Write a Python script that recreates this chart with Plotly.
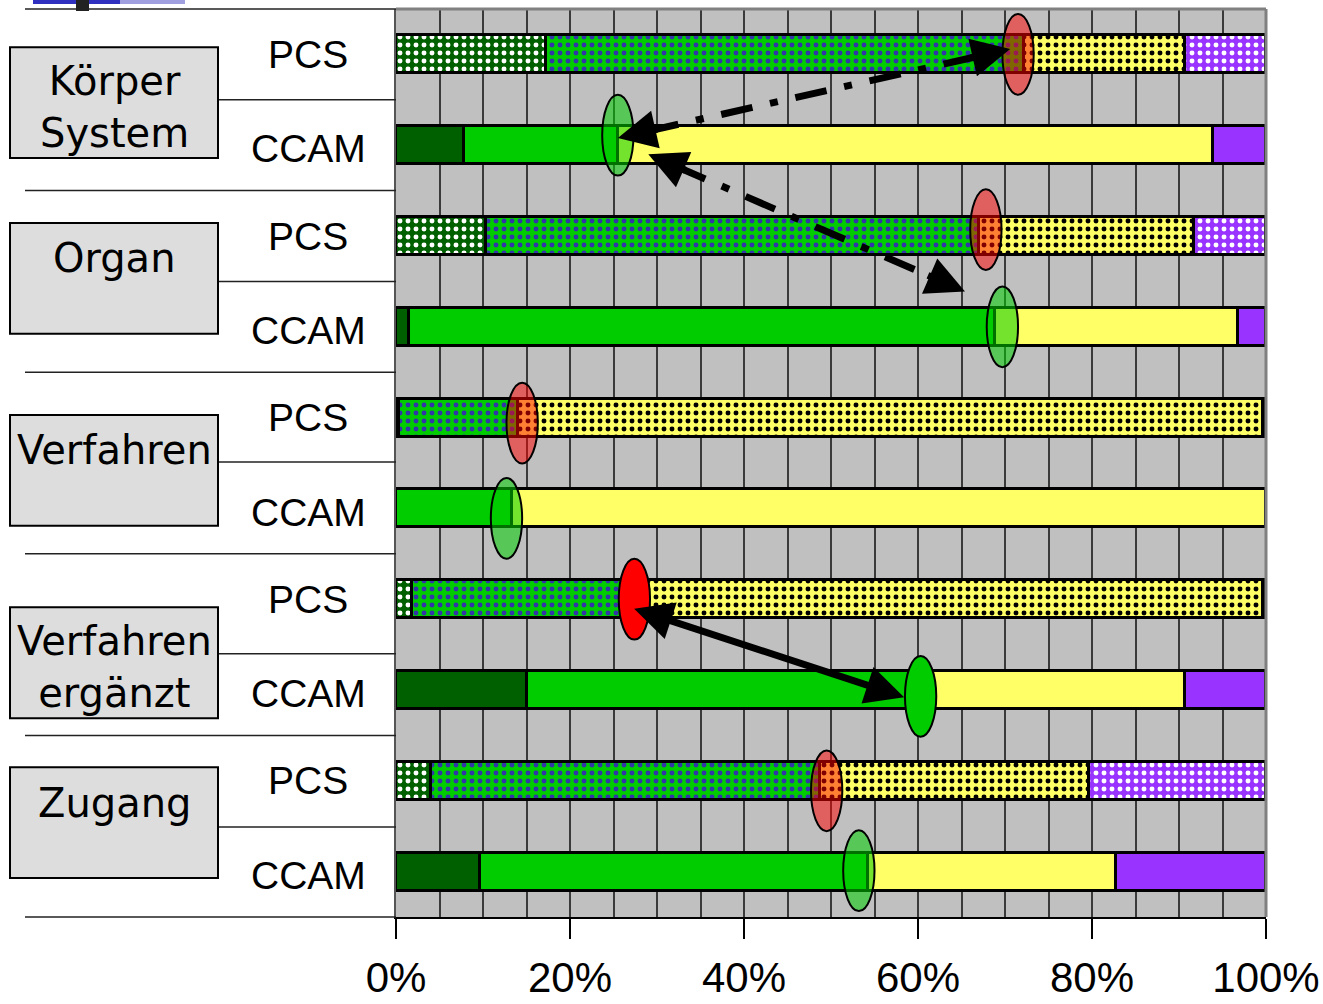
import plotly.graph_objects as go

# ---------------- data ----------------
groups = ["Körper<br>System", "Organ", "Verfahren", "Verfahren<br>ergänzt", "Zugang"]
systems = ["PCS", "CCAM"]
bar_system = ["PCS", "CCAM"] * 5

# stacked shares in % (bar order top -> bottom)
dark_green = [17.2, 7.8, 10.3, 1.5, 0.3, 0.0, 1.8, 15.0, 4.0, 9.7]
green      = [55.0, 17.7, 56.7, 67.4, 13.7, 13.3, 25.6, 45.3, 44.7, 44.6]
yellow     = [18.5, 68.4, 24.7, 27.9, 85.6, 86.7, 72.2, 30.4, 31.0, 28.5]
purple     = [9.3, 6.1, 8.3, 3.2, 0.4, 0.0, 0.4, 9.3, 20.3, 17.2]

# highlighted positions (ellipses), in %
marker_x = [71.5, 25.5, 67.8, 69.7, 14.5, 12.7, 27.4, 60.3, 49.5, 53.2]
marker_solid = [False, False, False, False, False, False, True, True, False, False]

# arrows: (x_start %, bar_start, x_end %, bar_end, style)
arrows = [
    (25.5, 0.92, 70.6, -0.06, "dashdot"),
    (29.0, 1.10, 65.4, 2.61, "dashdot"),
    (27.2, 6.10, 58.4, 7.08, "solid"),
]

tick_vals = [0, 20, 40, 60, 80, 100]
tick_text = ["0%", "20%", "40%", "60%", "80%", "100%"]

# ---------------- layout geometry ----------------
W, H = 1323, 1004
L, R, T, B = 396, 57, 9, 87
PW, PH = W - L - R, H - T - B
N = len(bar_system)
PX_X = PW / 100.0
PX_Y = PH / N

def yp(y):  # data y (bar index) -> paper
    return 1 - (y + 0.5) / N

def xpx(px):  # pixel x -> paper
    return (px - L) / PW

def ypx(py):  # pixel y -> paper
    return 1 - (py - T) / PH

ypos = list(range(N))
is_pcs = [s == "PCS" for s in bar_system]

fig = go.Figure()

segments = [
    ("dark", dark_green, "#006000", "#FFFFFF"),
    ("green", green, "#00CC00", "#3333AA"),
    ("yellow", yellow, "#FFFF66", "#000000"),
    ("purple", purple, "#9933FF", "#FFFFFF"),
]
for name, vals, col, fg in segments:
    fig.add_trace(go.Bar(
        y=ypos, x=vals, orientation="h", name=name, width=0.42,
        marker=dict(
            color=col,
            line=dict(color="black", width=3.5),
            pattern=dict(
                shape=["." if p else "" for p in is_pcs],
                fgcolor=fg, fgopacity=1, size=8, solidity=0.3,
            ),
        ),
        hoverinfo="skip", showlegend=False,
    ))

shapes = []
# ellipses
ell_dy = [0.0, -0.11, -0.07, 0.0, 0.06, 0.11, 0.0, 0.07, 0.11, -0.01]
ell_w, ell_h = 3.6, 0.89
for i in range(N):
    red = is_pcs[i]
    if marker_solid[i]:
        fill = "#FF0000" if red else "#00CC00"
    else:
        fill = "rgba(255,0,0,0.5)" if red else "rgba(0,204,0,0.55)"
    cy = i + ell_dy[i]
    shapes.append(dict(type="circle", xref="x", yref="y",
                       x0=marker_x[i] - ell_w / 2, x1=marker_x[i] + ell_w / 2,
                       y0=cy - ell_h / 2, y1=cy + ell_h / 2,
                       fillcolor=fill, line=dict(color="black", width=2)))

# arrows
annotations = []
for (x0, y0, x1, y1, style) in arrows:
    dxp, dyp = (x1 - x0) * PX_X, (y1 - y0) * PX_Y
    length = (dxp ** 2 + dyp ** 2) ** 0.5
    if style == "dashdot":
        f = 30 / length
        shapes.append(dict(type="line", xref="x", yref="y",
                           x0=x0 + (x1 - x0) * f, y0=y0 + (y1 - y0) * f,
                           x1=x1 - (x1 - x0) * f, y1=y1 - (y1 - y0) * f,
                           line=dict(color="black", width=7, dash="32px,18px,8px,18px")))
        g = 42 / length
        for (tx, ty, sx, sy) in [(x0, y0, x1, y1), (x1, y1, x0, y0)]:
            annotations.append(dict(x=tx, y=ty, ax=tx + (sx - tx) * g, ay=ty + (sy - ty) * g,
                                    xref="x", yref="y", axref="x", ayref="y", text="",
                                    showarrow=True, arrowhead=2, arrowsize=1.1,
                                    arrowwidth=7, arrowcolor="black"))
    else:
        annotations.append(dict(x=x1, y=y1, ax=x0, ay=y0, xref="x", yref="y",
                                axref="x", ayref="y", text="", showarrow=True,
                                arrowside="end+start", arrowhead=2, startarrowhead=2,
                                arrowsize=1.1, startarrowsize=1.1, arrowwidth=7,
                                arrowcolor="black"))

# plot frame (top and right gray border)
shapes.append(dict(type="line", xref="paper", yref="paper", x0=0, x1=1, y0=1, y1=1,
                   line=dict(color="#808080", width=3)))
shapes.append(dict(type="line", xref="paper", yref="paper", x0=1, x1=1, y0=0, y1=1,
                   line=dict(color="#808080", width=3)))

# left side: separators
for yb in [-0.5, 1.5, 3.5, 5.5, 7.5, 9.5]:
    shapes.append(dict(type="line", xref="paper", yref="paper", x0=xpx(25), x1=0,
                       y0=yp(yb), y1=yp(yb), line=dict(color="#222222", width=1.5)))
for yb in [0.5, 2.5, 4.49, 6.6, 8.51]:
    shapes.append(dict(type="line", xref="paper", yref="paper", x0=xpx(218), x1=0,
                       y0=yp(yb), y1=yp(yb), line=dict(color="#222222", width=1.5)))

# group boxes
box_top = [-0.08, 1.857, 3.97, 6.09, 7.85]
box_h = 1.22
for g, top in zip(groups, box_top):
    shapes.append(dict(type="rect", xref="paper", yref="paper",
                       x0=xpx(10), x1=xpx(218), y0=yp(top + box_h), y1=yp(top),
                       fillcolor="#DDDDDD", line=dict(color="black", width=2)))
    off = 0.655 if "<br>" in g else 0.39
    annotations.append(dict(x=xpx(114), y=yp(top + off), xref="paper", yref="paper",
                            text=g, showarrow=False, xanchor="center", yanchor="middle",
                            font=dict(family="DejaVu Sans", size=40, color="black")))

# PCS / CCAM labels
for i, s in enumerate(bar_system):
    off = 0.0 if s == "PCS" else 0.04
    annotations.append(dict(x=xpx(308), y=yp(i + off), xref="paper", yref="paper",
                            text=s, showarrow=False, xanchor="center", yanchor="middle",
                            font=dict(family="Liberation Sans, Arial", size=39, color="black")))

# slide remnant at top-left
shapes.append(dict(type="rect", xref="paper", yref="paper", x0=xpx(33), x1=xpx(120),
                   y0=ypx(4), y1=ypx(0), fillcolor="#3030C0", line=dict(width=0)))
shapes.append(dict(type="rect", xref="paper", yref="paper", x0=xpx(120), x1=xpx(185),
                   y0=ypx(4), y1=ypx(0), fillcolor="#A0A0E0", line=dict(width=0)))
shapes.append(dict(type="rect", xref="paper", yref="paper", x0=xpx(76), x1=xpx(89),
                   y0=ypx(11), y1=ypx(0), fillcolor="#222222", line=dict(width=0)))

fig.update_layout(
    width=W, height=H,
    margin=dict(l=L, r=R, t=T, b=B, autoexpand=False),
    paper_bgcolor="white", plot_bgcolor="#C0C0C0",
    barmode="stack", bargap=0,
    shapes=shapes, annotations=annotations,
    showlegend=False,
    xaxis=dict(
        range=[0, 100], tickvals=tick_vals, ticktext=tick_text,
        ticks="outside", ticklen=20, tickwidth=1.5, tickcolor="black",
        showgrid=True, gridcolor="#3a3a3a", gridwidth=1.5,
        minor=dict(dtick=5, tick0=0, showgrid=True, gridcolor="#3a3a3a", gridwidth=1.5, ticks=""),
        showline=True, linecolor="black", linewidth=2, zeroline=False,
        tickfont=dict(family="Liberation Sans, Arial", size=42, color="black"),
        ticklabelstandoff=3, automargin=False, fixedrange=True,
    ),
    yaxis=dict(
        range=[N - 0.5, -0.5], showticklabels=False, showgrid=False, zeroline=False,
        showline=True, linecolor="#555555", linewidth=1.5, ticks="",
        automargin=False, fixedrange=True,
    ),
)

fig.write_html("out.html", config={"displayModeBar": False},
               post_script="document.body.style.margin='0px';document.body.style.overflow='hidden';")
